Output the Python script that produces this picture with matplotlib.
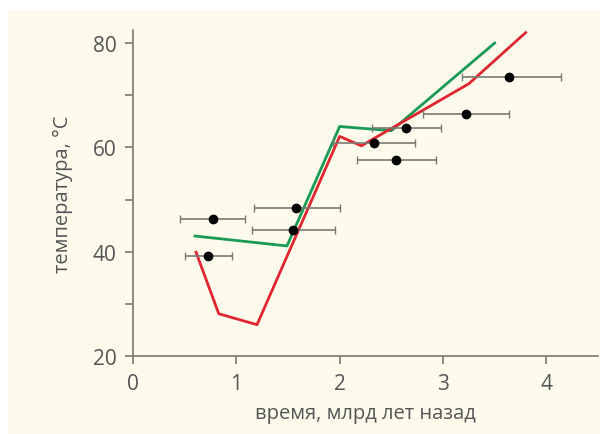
import matplotlib
matplotlib.use("Agg")
import matplotlib.pyplot as plt
from matplotlib.patches import Rectangle

# Data
green_x = [0.60, 1.49, 2.00, 2.50, 3.50]
green_y = [43.0, 41.1, 64.0, 63.2, 80.0]
red_x = [0.61, 0.83, 1.20, 2.00, 2.21, 3.25, 3.80]
red_y = [39.9, 28.1, 26.0, 62.1, 60.3, 72.2, 82.0]
pts_x = [0.73, 0.77, 1.58, 1.545, 2.33, 2.55, 2.64, 3.22, 3.64]
pts_y = [39.1, 46.3, 48.4, 44.1, 60.8, 57.6, 63.8, 66.3, 73.5]
err_lo = [0.23, 0.32, 0.41, 0.39, 0.39, 0.385, 0.33, 0.41, 0.46]
err_hi = [0.23, 0.31, 0.42, 0.41, 0.40, 0.38, 0.34, 0.42, 0.50]
x_ticks = [0, 1, 2, 3, 4]
y_ticks = [20, 40, 60, 80]
y_minor = [30, 50, 70]
x_label = "время, млрд лет назад"
y_label = "температура, °C"

W, H = 600, 435
fig = plt.figure(figsize=(W / 100, H / 100), dpi=100)
fig.patch.set_facecolor("white")
fig.patches.append(Rectangle((8 / W, 0), (W - 8) / W, (H - 11) / H,
                             transform=fig.transFigure, facecolor="#fdfbeb",
                             edgecolor="none", zorder=-10))

ax_l, ax_r = 133 / W, 598 / W
ax_b, ax_t = 1 - 357 / H, 1 - 31 / H
ax = fig.add_axes([ax_l, ax_b, ax_r - ax_l, ax_t - ax_b])
ax.set_zorder(5)
ax.set_facecolor("none")
ax.set_xlim(0, 4.5)
ax.set_ylim(20, 82.5)

ax.plot(green_x, green_y, color="#1a9a55", lw=2, zorder=3)
ax.plot(red_x, red_y, color="#e0262f", lw=2, zorder=3)
ax.errorbar(pts_x, pts_y, xerr=[err_lo, err_hi], fmt="o", color="black",
            ms=6, ecolor="#7a7a72", elinewidth=1.2, capsize=3, capthick=1,
            zorder=4)

for s in ["top", "right"]:
    ax.spines[s].set_visible(False)
for s in ["left", "bottom"]:
    ax.spines[s].set_color("#7a7a72")
    ax.spines[s].set_linewidth(1.2)

ax.set_xticks(x_ticks)
ax.set_yticks(y_ticks)
ax.set_yticks(y_minor, minor=True)
ax.tick_params(axis="both", which="both", color="#7a7a72", width=1.2,
               length=6, direction="out", labelsize=15, labelcolor="#555555")
ax.tick_params(axis="y", which="major", pad=6)
ax.tick_params(axis="x", which="major", pad=6)
ax.tick_params(axis="both", which="minor", labelleft=False)
for lab in ax.get_xticklabels() + ax.get_yticklabels():
    lab.set_fontfamily("Open Sans")

ax.set_xlabel(x_label, fontsize=14.5, color="#555555", family="Open Sans",
              labelpad=7)
ax.set_ylabel(y_label, fontsize=14.5, color="#555555", family="Open Sans",
              labelpad=14)

fig.savefig("out.png", dpi=100)
